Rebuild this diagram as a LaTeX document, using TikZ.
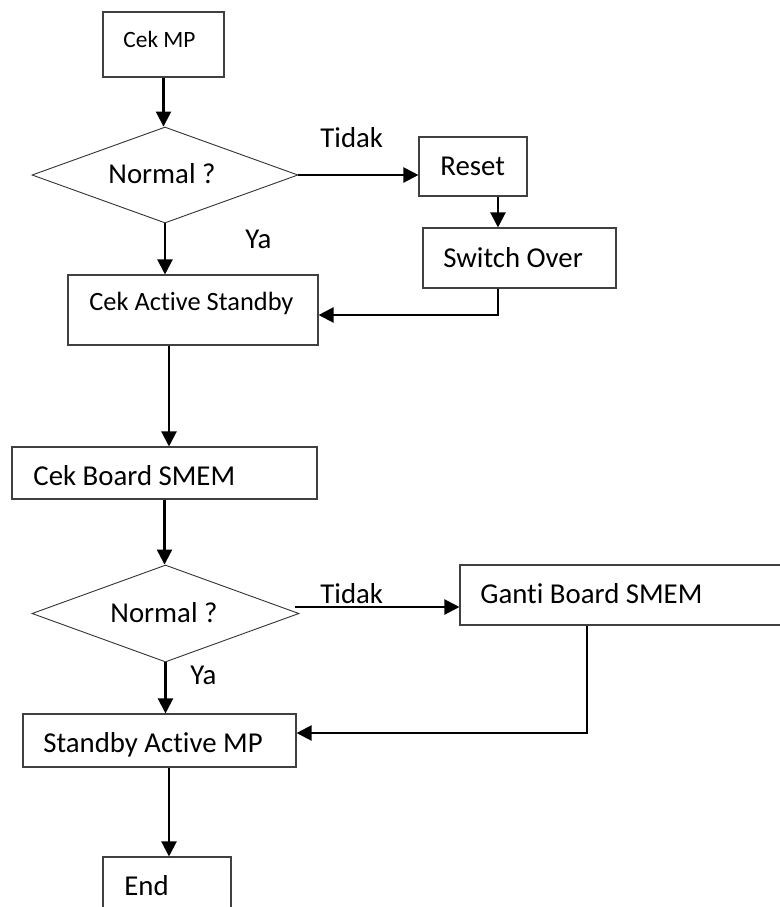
\documentclass[tikz,border=0pt]{standalone}
\usepackage{fontspec}
\setmainfont[Ligatures=NoCommon]{Carlito}
\usetikzlibrary{arrows.meta,shapes.geometric,fit,calc}

\tikzset{
  box/.style={draw=black!75, line width=0.55pt, inner sep=0pt, rectangle},
  dia/.style={draw=black!80, line width=0.45pt, inner sep=0pt, diamond},
  lbl/.style={anchor=base west, inner sep=0pt, font=\fontsize{14.4pt}{16pt}\selectfont},
  flow/.style={line width=1.1pt, -{Triangle[length=7.5pt,width=7.5pt]}}
}

\begin{document}
\begin{tikzpicture}[x=0.5pt, y=-0.5pt]
  \useasboundingbox (0,0) rectangle (780,907);
  \clip (0,0) rectangle (780,907);
  \fill[white] (0,0) rectangle (780,907);

  % process boxes
  \node[box, fit={(103,12) (224,77)}] (cekmp) {};
  \node[box, fit={(419,137) (527,196)}] (reset) {};
  \node[box, fit={(423,228) (616,288)}] (switch) {};
  \node[box, fit={(68,275) (318,345)}] (cas) {};
  \node[box, fit={(12,447) (317,499)}] (cboard) {};
  \node[box, fit={(460,565) (795,625)}] (ganti) {};
  \node[box, fit={(23,714) (296,767)}] (sam) {};
  \node[box, fit={(103,857) (231,930)}] (endb) {};

  % decisions
  \node[dia, minimum width=133pt, minimum height=48pt] (n1) at (165,175) {};
  \node[dia, minimum width=133.5pt, minimum height=48.5pt] (n2) at (165.5,613.5) {};

  % texts
  \node[lbl, font=\fontsize{11.7pt}{14pt}\selectfont] (tcekmp) at (123,47) {Cek MP};
  \node[lbl] (tn1) at (108,183) {Normal ?};
  \node[lbl] (tno1) at (320,147) {Tidak};
  \node[lbl] (treset) at (440,175) {Reset};
  \node[lbl] (tswitch) at (443,267) {Switch Over};
  \node[lbl] (tya1) at (245,248) {Ya};
  \node[lbl, font=\fontsize{13.2pt}{15pt}\selectfont] (tcas) at (89,310) {Cek Active Standby};
  \node[lbl] (tcboard) at (33,485) {Cek Board SMEM};
  \node[lbl] (tn2) at (110,622) {Normal ?};
  \node[lbl] (tno2) at (320,603) {Tidak};
  \node[lbl] (tganti) at (480,603) {Ganti Board SMEM};
  \node[lbl] (tya2) at (190,684) {Ya};
  \node[lbl] (tsam) at (43,752) {Standby Active MP};
  \node[lbl] (tend) at (124,895) {End};

  % connectors
  \draw[flow] (cekmp.south) -- (cekmp.south |- n1.north);
  \draw[flow] (n1.east) -- (n1.east -| reset.west);
  \draw[flow] ([xshift=12.5pt]reset.south) -- ([xshift=12.5pt]reset.south |- switch.north);
  \draw[flow] ([xshift=-10.75pt]switch.south) |- ([yshift=-2.5pt]cas.east);
  \draw[flow] (n1.south) -- (n1.south |- cas.north);
  \draw[flow] ([xshift=-12pt]cas.south) -- ([xshift=-12pt]cas.south |- cboard.north);
  \draw[flow] (cboard.south) -- (cboard.south |- n2.north);
  \draw[flow] ([xshift=-2pt,yshift=3.25pt]n2.east) -- ([yshift=3.25pt]n2.east -| ganti.west);
  \draw[flow] ([xshift=-20.25pt]ganti.south) |- ([yshift=3.75pt]sam.east);
  \draw[flow] (n2.south) -- (n2.south |- sam.north);
  \draw[flow] ([xshift=4.75pt]sam.south) -- ([xshift=4.75pt]sam.south |- endb.north);
\end{tikzpicture}
\end{document}
